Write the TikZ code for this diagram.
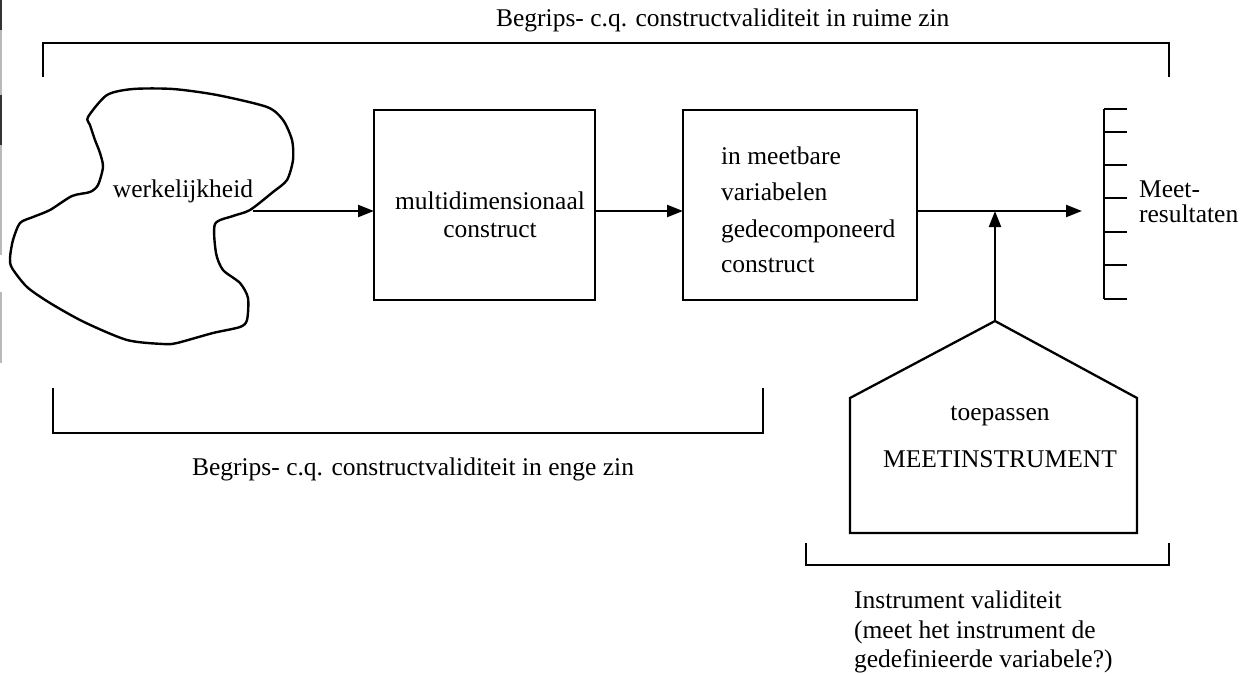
\documentclass[tikz,border=0pt]{standalone}
\usepackage{fontspec}
\setmainfont{Liberation Serif}
\usetikzlibrary{arrows.meta}
\begin{document}
\begin{tikzpicture}[x=1pt,y=-1pt,
  line width=2.3pt,
  lbl/.style={font=\fontsize{25.5}{30}\selectfont, inner sep=0pt, anchor=base},
  lbll/.style={lbl, anchor=base west},
  boxnode/.style={draw, line width=2.4pt, inner sep=0pt, outer sep=0pt,
                  minimum width=#1, minimum height=190pt},
  arr/.style={-{Triangle[length=16pt,width=12pt]}, line width=2.3pt},
  bracket/.style={line width=2.1pt},
  edge mark/.style={line width=2pt, gray!55},
]
\useasboundingbox (0,0) rectangle (1242,675);

% page edge mark on the left
\draw[edge mark] (1,0) -- (1,255);
\draw[edge mark] (1,292) -- (1,363);
\draw[edge mark, black!80] (1,0) -- (1,30);
\draw[edge mark, black!80] (1,95) -- (1,145);

% wide bracket with its caption
\coordinate (tl) at (43,77);
\coordinate (tr) at (1169,77);
\draw[bracket] (tl) -- (43,43) -- (1169,43) -- (tr);
\node[lbll] (titletop) at (495,26) {Begrips- c.q. constructvaliditeit in ruime zin};

% reality as a free-form cloud
\draw[line width=2.4pt] plot[smooth cycle, tension=0.45] coordinates {
  (88,117) (107,95) (133,89) (173,89) (217,95) (267,107) (283,120)
  (292,140) (293,160) (287,180) (273,192) (250,210) (233,216)
  (215,224) (216,253) (223,270) (240,283) (248,298) (247,320)
  (240,327) (213,333) (177,343) (163,344) (127,340) (84,322)
  (50,303) (27,287) (12,268) (10,258) (13,240) (20,223) (33,217)
  (50,210) (72,196) (90,192) (98,185) (103,167) (100,153) (95,140) (90,125)};
\coordinate (bx) at (253,211);
\node[lbl] (wk) at (183,197) {werkelijkheid};

% construct boxes
\node[boxnode=221pt] (b1) at (484.5,205) {};
\node[lbl] (b1a) at (490,209) {multidimensionaal};
\node[lbl] (b1b) at (490,237) {construct};

\node[boxnode=234pt] (b2) at (800,205) {};
\node[lbll] (b2a) at (720,164) {in meetbare};
\node[lbll] (b2b) at (720,200) {variabelen};
\node[lbll] (b2c) at (720,237) {gedecomponeerd};
\node[lbll] (b2d) at (720,272) {construct};

% measurement scale
\coordinate (stop) at (1104,109);
\coordinate (sbot) at (1104,299);
\draw[line width=2.3pt] (stop) -- (sbot);
\foreach \t in {109,132,165,198,232,265,299}
  \draw[line width=2.3pt] (1104,\t) -- (1127,\t);
\node[lbll] (mr1) at (1138,197) {Meet-};
\node[lbll] (mr2) at (1138,222) {resultaten};
\coordinate (mtip) at (1082,211);

% flow arrows
\draw[arr] (bx) -- (b1.west |- bx);
\draw[arr] (b1.east |- bx) -- (b2.west |- bx);
\draw[arr] (b2.east |- bx) -- (mtip);

% measuring instrument
\coordinate (apex) at (995,321);
\coordinate (pl) at (850,398);
\coordinate (pbl) at (850,533);
\coordinate (pbr) at (1137,533);
\coordinate (pr) at (1137,398);
\draw[line width=2.3pt, line join=miter] (apex) -- (pr) -- (pbr) -- (pbl) -- (pl) -- cycle;
\node[lbl] (tp) at (1000,420) {toepassen};
\node[lbl] (mi) at (1000,467) {MEETINSTRUMENT};
\draw[arr] (apex) -- (apex |- bx);

% narrow bracket under the first part
\draw[bracket] (53,388) -- (53,433) -- (763,433) -- (763,388);
\node[lbl] (titlebot) at (413,475) {Begrips- c.q. constructvaliditeit in enge zin};

% bracket under the instrument
\draw[bracket] (806,543) -- (806,565) -- (1169,565) -- (1169,543);
\node[lbll] (iv1) at (853,608) {Instrument validiteit};
\node[lbll] (iv2) at (853,638) {(meet het instrument de};
\node[lbll] (iv3) at (853,667) {gedefinieerde variabele?)};
\end{tikzpicture}
\end{document}
